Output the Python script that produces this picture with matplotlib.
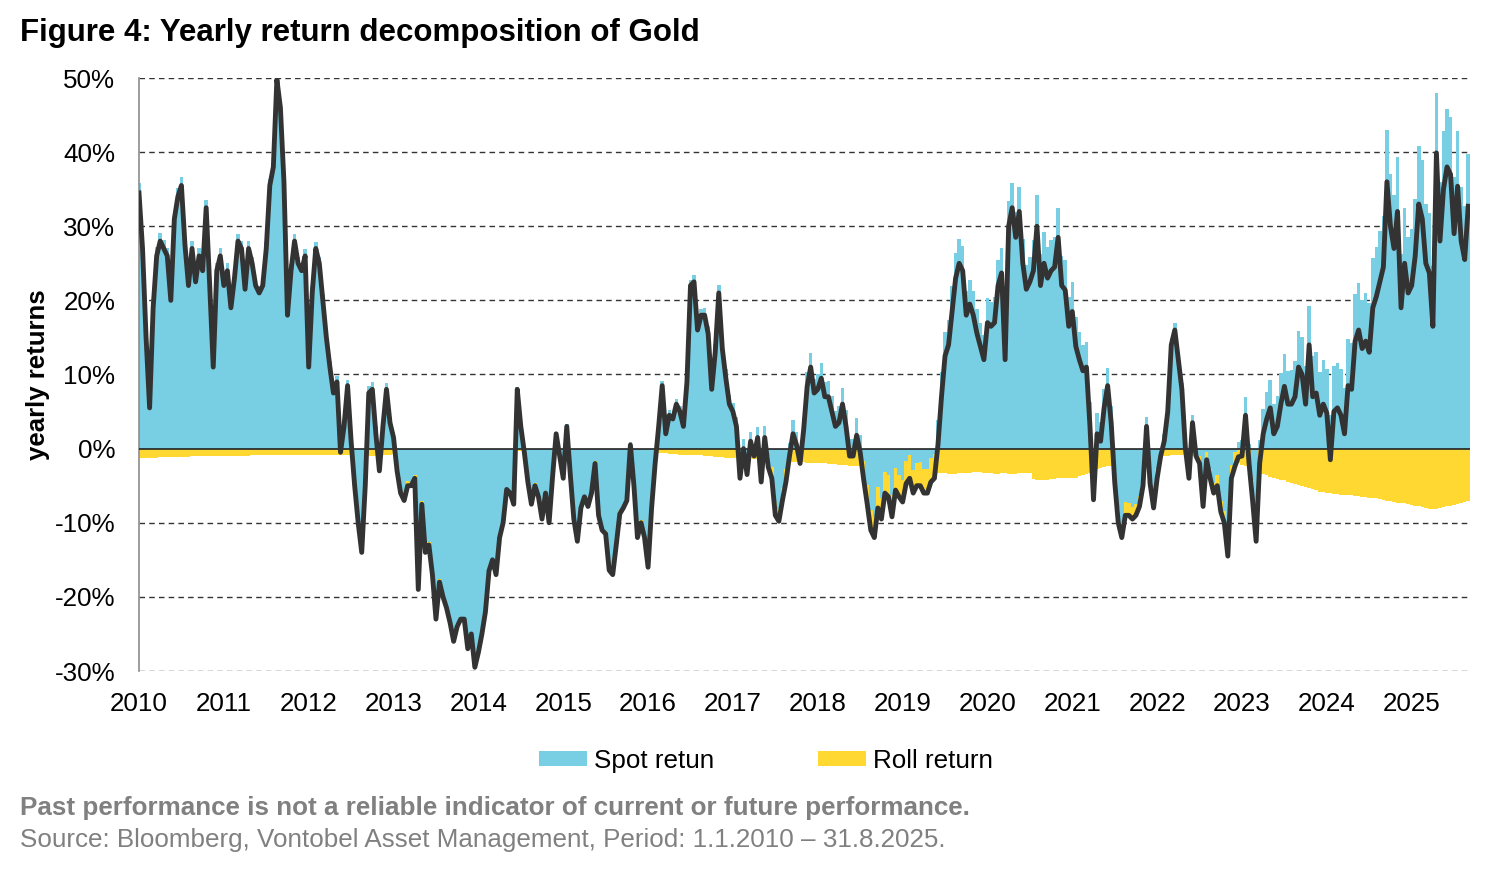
import numpy as np
import matplotlib
matplotlib.use("Agg")
import matplotlib.pyplot as plt
from matplotlib.patches import Patch

plt.rcParams['font.family'] = ['Liberation Sans', 'DejaVu Sans']

# yearly total return (line), semi-monthly readings, in %
total_2010 = [34.5, 27, 15, 5.5, 19, 26, 28, 27, 26, 20, 31, 34, 35.5, 27.5, 22, 27, 22.5, 26, 24, 32.5, 22, 11, 24, 26]
total_2011 = [22, 24, 19, 23, 28, 27, 21.5, 27, 25, 22, 21, 22, 27, 35.5, 38, 49.8, 46, 36, 18, 24, 28, 25, 24, 26]
total_2012 = [11, 21, 27, 25, 20, 15, 11, 7.5, 9, -0.5, 3, 8.5, 1, -5, -10, -14, -5, 7.5, 8, 2, -3, 3, 8, 3.5]
total_2013 = [1.5, -3, -6, -7, -5, -5, -4, -19, -7.5, -14, -13, -17, -23, -18, -20, -21.5, -23.5, -26, -24, -23, -23, -27, -25, -29.5]
total_2014 = [-27.5, -25, -22, -16.5, -15, -17, -12, -10, -5.5, -6, -7.5, 8, 3, -0.5, -4.5, -7.5, -5, -6.5, -9.5, -6, -10, -3.7, 2, -1]
total_2015 = [-4, 3, -3.5, -9.5, -12.5, -8, -6.5, -7.8, -6, -2, -9, -11, -11.5, -16.4, -17, -13, -8.8, -8, -7, 0.5, -5, -12, -10, -12]
total_2016 = [-16, -8, -2, 3, 8.5, 2, 4.5, 4, 6, 5, 3, 9, 22, 22.5, 16, 18, 18, 15.5, 8, 13, 21, 13.5, 9.5, 6]
total_2017 = [5, 3, -4, 0, -3.5, 1, -1, 1.5, -4.5, 1.5, -2.5, -4, -9, -9.8, -7, -4.5, -1, 2, 0.5, -2, 2.5, 8.4, 11, 7.5]
total_2018 = [8, 9.5, 7, 7, 5, 3, 3.5, 6, 3, -1, -1, 1.8, -0.5, -4.2, -7.5, -11, -12, -8, -9.5, -6, -6.5, -9.2, -5.6, -6.5]
total_2019 = [-7.2, -4.7, -4, -6, -5, -5, -6, -6, -4.5, -4, 0.5, 7, 12.5, 14, 18.5, 23, 25, 24, 18, 19.5, 18, 15.6, 13.8, 12]
total_2020 = [17, 16.5, 17, 22, 23.7, 12, 30, 32.5, 28.5, 32, 25, 21.5, 22.5, 24, 30, 22, 25, 23, 24, 24.5, 28.5, 22, 21.4, 16.5]
total_2021 = [18.5, 13.8, 12, 10.5, 11, 3, -6.9, 2, 1, 5.5, 8.5, 3.5, -4.5, -10, -12, -9, -9, -9.5, -9, -7.8, -5, 3, -4.7, -8]
total_2022 = [-4, -1, 1, 5, 14, 16, 12, 8, 0, -4, 3.5, -1, -2, -7.8, -1.5, -4, -6, -5, -8.5, -10, -14.5, -4, -2.4, -1.1]
total_2023 = [-1, 4.5, -2, -7, -12.5, -2, 2, 4, 5.5, 2, 3, 6, 8.4, 6, 6, 7, 11, 10, 6, 14, 7, 7.5, 4.5, 6]
total_2024 = [4.8, -1.5, 5, 5.5, 4.5, 2, 8.5, 8, 14.5, 16, 13.5, 14.5, 13, 19, 20.5, 22.5, 24.5, 36, 30, 27, 32, 19, 25, 21]
total_2025 = [22, 26, 33, 31, 25, 23.7, 16.5, 39.9, 28, 35, 38, 37, 29, 35.4, 28, 25.5, 32.7]

# roll return (yellow), semi-monthly readings, in %
roll_2010 = [-1.3, -1.2, -1.2, -1.2, -1.2, -1.2, -1.1, -1.1, -1.1, -1.1, -1.1, -1.1, -1.1, -1.1, -1.1, -1.0, -1.0, -1.0, -1.0, -1.0, -1.0, -1.0, -1.0, -1.0]
roll_2011 = [-1.0, -1.0, -1.0, -1.0, -1.0, -1.0, -1.0, -1.0, -0.9, -0.9, -0.9, -0.9, -0.9, -0.9, -0.9, -0.9, -0.9, -0.9, -0.9, -0.9, -0.9, -0.9, -0.9, -0.9]
roll_2012 = [-0.9, -0.9, -0.9, -0.9, -0.8, -0.8, -0.8, -0.8, -0.8, -0.8, -0.8, -0.8, -0.8, -0.9, -0.9, -0.9, -1.0, -1.0, -1.0, -1.0, -1.0, -0.9, -0.9, -0.8]
roll_2013 = [-0.7, -0.7, -0.6, -0.6, -0.6, -0.5, -0.5, -0.5, -0.5, -0.5, -0.4, -0.4, -0.4, -0.4, -0.4, -0.4, -0.4, -0.4, -0.3, -0.3, -0.3, -0.3, -0.3, -0.3]
roll_2014 = [-0.3, -0.3, -0.3, -0.3, -0.3, -0.3, -0.3, -0.3, -0.3, -0.3, -0.3, -0.3, -0.3, -0.3, -0.3, -0.3, -0.3, -0.3, -0.3, -0.3, -0.3, -0.3, -0.3, -0.3]
roll_2015 = [-0.3, -0.3, -0.3, -0.3, -0.3, -0.3, -0.3, -0.3, -0.3, -0.3, -0.3, -0.3, -0.4, -0.4, -0.4, -0.4, -0.4, -0.4, -0.4, -0.4, -0.4, -0.4, -0.4, -0.4]
roll_2016 = [-0.5, -0.5, -0.5, -0.6, -0.6, -0.6, -0.7, -0.7, -0.7, -0.8, -0.8, -0.8, -0.8, -0.9, -0.9, -0.9, -1.0, -1.0, -1.0, -1.1, -1.1, -1.1, -1.2, -1.2]
roll_2017 = [-1.2, -1.2, -1.2, -1.3, -1.3, -1.3, -1.4, -1.4, -1.4, -1.5, -1.5, -1.5, -1.6, -1.6, -1.7, -1.7, -1.7, -1.8, -1.8, -1.8, -1.8, -1.9, -1.9, -1.9]
roll_2018 = [-2.0, -2.0, -2.0, -2.1, -2.1, -2.1, -2.2, -2.2, -2.2, -2.3, -2.3, -2.3, -2.4, -2.5, -2.6, -2.7, -2.8, -2.8, -2.9, -2.9, -2.9, -3.0, -3.0, -3.0]
roll_2019 = [-3.0, -3.0, -3.1, -3.1, -3.1, -3.2, -3.2, -3.2, -3.3, -3.3, -3.3, -3.3, -3.3, -3.4, -3.4, -3.4, -3.3, -3.3, -3.3, -3.3, -3.2, -3.2, -3.2, -3.3]
roll_2020 = [-3.3, -3.3, -3.4, -3.4, -3.3, -3.3, -3.4, -3.4, -3.4, -3.3, -3.3, -3.3, -3.3, -4.1, -4.2, -4.2, -4.2, -4.2, -4.1, -4.1, -4.0, -4.0, -4.0, -4.0]
roll_2021 = [-4.0, -3.9, -3.7, -3.5, -3.4, -3.3, -3.0, -2.8, -2.6, -2.5, -2.4, -2.3, -2.2, -2.0, -1.9, -1.8, -1.7, -1.6, -1.5, -1.4, -1.3, -1.3, -1.2, -1.2]
roll_2022 = [-1.2, -1.1, -1.0, -1.0, -0.9, -0.9, -0.9, -0.9, -0.9, -0.9, -1.0, -1.0, -1.0, -1.1, -1.1, -1.2, -1.3, -1.4, -1.5, -1.6, -1.7, -1.8, -1.9, -2.0]
roll_2023 = [-2.2, -2.4, -2.6, -2.8, -3.0, -3.2, -3.4, -3.6, -3.8, -4.0, -4.1, -4.2, -4.3, -4.5, -4.6, -4.8, -4.9, -5.0, -5.2, -5.3, -5.5, -5.6, -5.8, -5.9]
roll_2024 = [-6.0, -6.0, -6.1, -6.1, -6.2, -6.2, -6.3, -6.3, -6.4, -6.4, -6.5, -6.5, -6.6, -6.7, -6.7, -6.8, -6.9, -7.0, -7.1, -7.2, -7.3, -7.3, -7.4, -7.5]
roll_2025 = [-7.6, -7.7, -7.8, -7.9, -8.0, -8.1, -8.2, -8.1, -8.0, -7.9, -7.8, -7.7, -7.6, -7.5, -7.3, -7.2, -7.1]

years = list(range(2010, 2026))
year_labels = [str(y) for y in years]
ytick_vals = [-30, -20, -10, 0, 10, 20, 30, 40, 50]

total = np.array(total_2010 + total_2011 + total_2012 + total_2013 + total_2014 + total_2015
                 + total_2016 + total_2017 + total_2018 + total_2019 + total_2020 + total_2021
                 + total_2022 + total_2023 + total_2024 + total_2025)
roll = np.array(roll_2010 + roll_2011 + roll_2012 + roll_2013 + roll_2014 + roll_2015
                + roll_2016 + roll_2017 + roll_2018 + roll_2019 + roll_2020 + roll_2021
                + roll_2022 + roll_2023 + roll_2024 + roll_2025)
spot = total - roll
t = 2010 + np.arange(len(total)) / 24.0

BLUE = '#78CEE3'
YELLOW = '#FFD932'
LINE = '#333333'

fig = plt.figure(figsize=(15, 8.71), dpi=100)
ax = fig.add_axes([139 / 1500, 1 - 671 / 871, (1470 - 139) / 1500, (671 - 78) / 871])

w = 1 / 24
ax.bar(t, spot, width=w, color=BLUE, linewidth=0, zorder=2)
ax.bar(t, roll, width=w, bottom=np.where(spot < 0, spot, 0), color=YELLOW, linewidth=0, zorder=2)
ax.axhline(0, color='#222222', lw=1.2, zorder=3)
ax.plot(t, total, color=LINE, lw=3.5, zorder=4, solid_joinstyle='round')

ax.set_ylim(-30, 50)
ax.set_xlim(2010, t[-1] + w / 2)
ax.set_yticks(ytick_vals)
ax.set_yticklabels([f'{v}%' for v in ytick_vals], fontsize=18.7)
ax.set_xticks(years)
ax.set_xticklabels(year_labels, fontsize=18.7)
ax.tick_params(axis='both', length=0)
ax.tick_params(axis='y', pad=17)
ax.tick_params(axis='x', pad=15)

for v in ytick_vals:
    if v != 0:
        ax.axhline(v, color='#333333', lw=1.0, ls=(0, (4, 3)), zorder=1)

for s in ['top', 'right', 'bottom']:
    ax.spines[s].set_visible(False)
ax.spines['left'].set_color('#8c8c8c')
ax.spines['left'].set_linewidth(1.2)

ax.set_ylabel('yearly returns', fontsize=18.5, fontweight='bold')
ax.yaxis.set_label_coords(-0.067, 0.5)

fig.text(20 / 1500, 1 - 33 / 871, 'Figure 4: Yearly return decomposition of Gold',
         fontsize=22.5, fontweight='bold', va='center', ha='left')

handles = [Patch(facecolor=BLUE, edgecolor='none', label='Spot retun'),
           Patch(facecolor=YELLOW, edgecolor='none', label='Roll return')]
fig.legend(handles=handles, loc='center', bbox_to_anchor=(766 / 1500, 1 - 761 / 871), ncol=2,
           frameon=False, fontsize=18.7, handlelength=1.85, handleheight=0.5,
           handletextpad=0.27, columnspacing=4.0)

fig.text(20 / 1500, 1 - 808 / 871, 'Past performance is not a reliable indicator of current or future performance.',
         fontsize=18.7, fontweight='bold', color='#808080', va='center', ha='left')
fig.text(20 / 1500, 1 - 840 / 871, 'Source: Bloomberg, Vontobel Asset Management, Period: 1.1.2010 \u2013 31.8.2025.',
         fontsize=18.7, color='#808080', va='center', ha='left')

fig.savefig('out.png', dpi=100)
